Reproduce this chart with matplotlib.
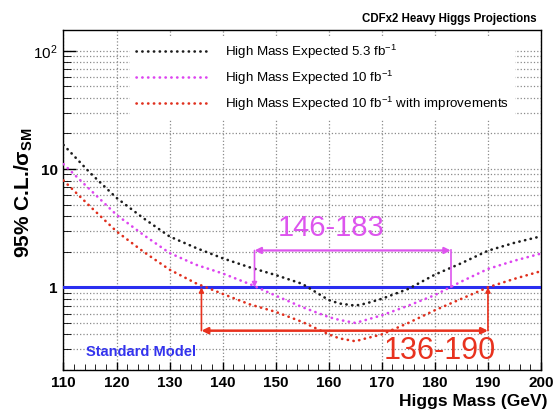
import matplotlib
matplotlib.use("Agg")
import matplotlib.pyplot as plt
import numpy as np
from matplotlib.ticker import FixedLocator, MultipleLocator, LogLocator, NullFormatter

plt.rcParams['font.family'] = ['Liberation Sans', 'DejaVu Sans']
plt.rcParams['mathtext.default'] = 'regular'

# values
mass = [110, 115, 120, 125, 130, 135, 140, 145, 150, 155, 160, 162, 165, 167, 170, 175, 180, 185, 190, 195, 200]
exp_53 = [16.0, 9.3, 5.7, 3.86, 2.69, 2.15, 1.76, 1.48, 1.27, 1.07, 0.78, 0.73, 0.70, 0.73, 0.80, 0.97, 1.28, 1.60, 2.04, 2.38, 2.70]
exp_10 = [11.0, 6.7, 4.1, 2.79, 1.95, 1.55, 1.31, 1.07, 0.85, 0.68, 0.56, 0.53, 0.50, 0.53, 0.58, 0.70, 0.86, 1.12, 1.43, 1.68, 1.93]
exp_10_imp = [8.0, 4.84, 2.97, 2.01, 1.41, 1.08, 0.88, 0.72, 0.62, 0.51, 0.40, 0.37, 0.35, 0.37, 0.40, 0.50, 0.64, 0.80, 1.00, 1.18, 1.37]

labels = ["High Mass Expected 5.3 fb$^{-1}$",
          "High Mass Expected 10 fb$^{-1}$",
          "High Mass Expected 10 fb$^{-1}$ with improvements"]
colors = ["#1c1c1c", "#dd44f0", "#e0301e"]

range_10 = (146, 183)
range_imp = (136, 190)
arrow_y_10 = 2.05
arrow_y_imp = 0.43

fig = plt.figure(figsize=(5.55, 4.11), dpi=100)
ax = fig.add_axes([0.1144, 0.0998, 0.8604, 0.8273])

dots = (0, (0.1, 2.1))
for y, lab, c in zip([exp_53, exp_10, exp_10_imp], labels, colors):
    ax.plot(mass, y, color=c, lw=1.9, linestyle=dots, dash_capstyle='round', label=lab, zorder=4)

ax.axhline(1.0, color="#2a2ef0", lw=2.2, zorder=3)

ax.set_yscale('log')
ax.set_xlim(110, 200)
ax.set_ylim(0.2, 150)

ax.xaxis.set_major_locator(MultipleLocator(10))
ax.xaxis.set_minor_locator(MultipleLocator(2))
ax.yaxis.set_major_locator(FixedLocator([1, 10, 100]))
ax.yaxis.set_minor_locator(LogLocator(base=10, subs=np.arange(2, 10)))
ax.yaxis.set_minor_formatter(NullFormatter())
ax.set_yticklabels(["1", "10", "$10^{2}$"])
for t in ax.get_yticklabels():
    t.set_fontweight('bold')
ax.get_yticklabels()[2].set_fontweight('normal')

ax.tick_params(axis='both', which='major', direction='in', labelsize=11, width=1, pad=4)
ax.tick_params(axis='x', which='major', length=6)
ax.tick_params(axis='x', which='minor', direction='in', length=4)
ax.tick_params(axis='y', which='major', length=9)
ax.tick_params(axis='y', which='minor', direction='in', length=6)
for t in ax.get_xticklabels():
    t.set_fontweight('bold')

ax.grid(True, which='major', axis='x', color='#8a8a8a', linestyle=':', lw=0.9)
ax.grid(True, which='both', axis='y', color='#8a8a8a', linestyle=':', lw=0.9)
ax.set_axisbelow(True)
for s in ax.spines.values():
    s.set_linewidth(1.0)

# magenta range annotation
mg = "#dd55ee"
ax.annotate('', xy=(range_10[1], arrow_y_10), xytext=(range_10[0], arrow_y_10),
            arrowprops=dict(arrowstyle='<|-|>', color=mg, lw=1.6, mutation_scale=9, shrinkA=0, shrinkB=0), zorder=5)
ax.annotate('', xy=(range_10[0], 1.0), xytext=(range_10[0], arrow_y_10),
            arrowprops=dict(arrowstyle='-|>', color=mg, lw=1.2, mutation_scale=7, shrinkA=0, shrinkB=0), zorder=5)
ax.plot([range_10[1], range_10[1]], [arrow_y_10, 1.0], color=mg, lw=1.2, zorder=5)
ax.text(160.4, 3.19, "146-183", color=mg, fontsize=21, ha='center', va='center', zorder=6)

# red range annotation
rd = "#e8321e"
ax.annotate('', xy=(range_imp[1], arrow_y_imp), xytext=(range_imp[0], arrow_y_imp),
            arrowprops=dict(arrowstyle='<|-|>', color=rd, lw=1.8, mutation_scale=9, shrinkA=0, shrinkB=0), zorder=5)
for xv in range_imp:
    ax.annotate('', xy=(xv, 1.0), xytext=(xv, arrow_y_imp),
                arrowprops=dict(arrowstyle='-|>', color=rd, lw=1.2, mutation_scale=7, shrinkA=0, shrinkB=0), zorder=5)
ax.text(181, 0.29, "136-190", color=rd, fontsize=22, ha='center', va='center', zorder=6)

ax.text(124.7, 0.285, "Standard Model", color="#3333ee", fontsize=10.5, fontweight='bold',
        ha='center', va='center', zorder=6)

leg = ax.legend(loc='upper left', bbox_to_anchor=(0.125, 1.0), fontsize=9.6, frameon=True,
                facecolor='white', edgecolor='none', framealpha=1, handlelength=5.6,
                labelspacing=0.58, borderpad=0.45, handletextpad=1.1, fancybox=False)
leg.set_zorder(10)

ax.set_ylabel("95% C.L./$\\sigma_{SM}$", fontsize=15, fontweight='bold')
ax.yaxis.set_label_coords(-0.06, 0.52)
fig.text(0.987, 0.023, "Higgs Mass (GeV)", fontsize=12.5, fontweight='bold', ha='right', va='center')
fig.text(0.966, 0.953, "CDFx2 Heavy Higgs Projections", fontsize=8.3, fontweight='bold', ha='right', va='center')

fig.savefig("out.png", dpi=100)
